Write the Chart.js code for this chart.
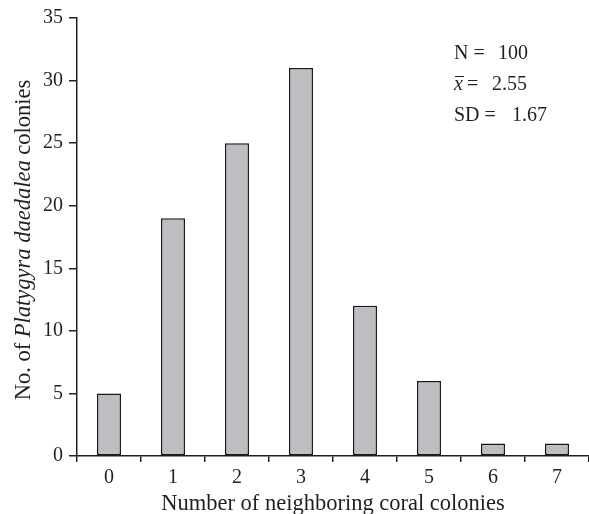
<!DOCTYPE html>
<html>
<head>
<meta charset="utf-8">
<script src="https://cdn.jsdelivr.net/npm/chart.js@4/dist/chart.umd.min.js"></script>
<style>
  html, body { margin: 0; padding: 0; background: #ffffff; }
  #wrap { width: 589px; height: 514px; }
</style>
</head>
<body>
<div id="wrap"><canvas id="c" width="589" height="514"></canvas></div>
<script>
// Neighbour counts and colony frequencies
const categories = ['0', '1', '2', '3', '4', '5', '6', '7'];
const colonyCounts = [5, 19, 25, 31, 12, 6, 1, 1];
const yTicks = [0, 5, 10, 15, 20, 25, 30, 35];
const summaryStats = { n: '100', mean: '2.55', sd: '1.67' };

const INK = '#231f20';
const SERIF = '"Liberation Serif", "Times New Roman", Times, serif';
const FONT_SIZE = 20;
const TITLE_SIZE = 22.5;

// Axis titles (with italic species name) and the summary box
const textPlugin = {
  id: 'textPlugin',
  afterDraw(chart) {
    const ctx = chart.ctx;
    const area = chart.chartArea;
    ctx.save();
    ctx.fillStyle = INK;
    ctx.textBaseline = 'alphabetic';

    // x-axis title
    ctx.font = TITLE_SIZE + 'px ' + SERIF;
    ctx.textAlign = 'center';
    ctx.fillText('Number of neighboring coral colonies', (area.left + area.right) / 2, 510);

    // y-axis title, rotated, mixed roman / italic
    const parts = [
      { t: 'No. of ', f: TITLE_SIZE + 'px ' + SERIF },
      { t: 'Platygyra daedalea', f: 'italic ' + TITLE_SIZE + 'px ' + SERIF },
      { t: ' colonies', f: TITLE_SIZE + 'px ' + SERIF }
    ];
    let total = 0;
    parts.forEach(p => { ctx.font = p.f; p.w = ctx.measureText(p.t).width; total += p.w; });
    ctx.translate(30, 240);
    ctx.rotate(-Math.PI / 2);
    ctx.textAlign = 'left';
    let x = -total / 2;
    parts.forEach(p => { ctx.font = p.f; ctx.fillText(p.t, x, 0); x += p.w; });
    ctx.setTransform(1, 0, 0, 1, 0, 0);

    // summary statistics
    ctx.font = FONT_SIZE + 'px ' + SERIF;
    ctx.textAlign = 'left';
    ctx.fillText('N =', 454, 59);
    ctx.fillText(summaryStats.n, 498, 59);

    ctx.font = 'italic ' + FONT_SIZE + 'px ' + SERIF;
    ctx.fillText('x', 454, 90);
    const xw = ctx.measureText('x').width;
    ctx.strokeStyle = INK;
    ctx.lineWidth = 1;
    ctx.beginPath();
    ctx.moveTo(455, 76.5);
    ctx.lineTo(455 + xw, 76.5);
    ctx.stroke();
    ctx.font = FONT_SIZE + 'px ' + SERIF;
    ctx.fillText('=', 467, 90);
    ctx.fillText(summaryStats.mean, 492, 90);

    ctx.fillText('SD =', 454, 121);
    ctx.fillText(summaryStats.sd, 512, 121);
    ctx.restore();
  }
};

new Chart(document.getElementById('c'), {
  type: 'bar',
  data: {
    labels: categories,
    datasets: [{
      data: colonyCounts,
      backgroundColor: '#bdbec2',
      borderColor: '#1a1a1a',
      borderWidth: 1.5,
      borderSkipped: false,
      categoryPercentage: 1,
      barPercentage: 0.375
    }]
  },
  options: {
    responsive: false,
    animation: false,
    events: [],
    layout: { padding: { left: 0, right: 0, top: 15, bottom: 0 } },
    plugins: { legend: { display: false }, tooltip: { enabled: false }, title: { display: false } },
    scales: {
      x: {
        type: 'category',
        offset: true,
        grid: { offset: true, drawOnChartArea: false, drawTicks: true, tickLength: 6, color: INK, lineWidth: 1.5 },
        border: { display: true, color: INK, width: 1.5 },
        ticks: { color: INK, font: { family: SERIF, size: FONT_SIZE }, padding: 4, maxRotation: 0 },
        afterFit(scale) { scale.height = 58; }
      },
      y: {
        min: 0,
        max: 35,
        afterBuildTicks(scale) { scale.ticks = yTicks.map(v => ({ value: v })); },
        grid: { drawOnChartArea: false, drawTicks: true, tickLength: 8, color: INK, lineWidth: 1.5 },
        border: { display: true, color: INK, width: 1.5 },
        ticks: { color: INK, font: { family: SERIF, size: FONT_SIZE }, padding: 6 },
        afterFit(scale) { scale.width = 77; }
      }
    }
  },
  plugins: [textPlugin]
});
</script>
</body>
</html>
